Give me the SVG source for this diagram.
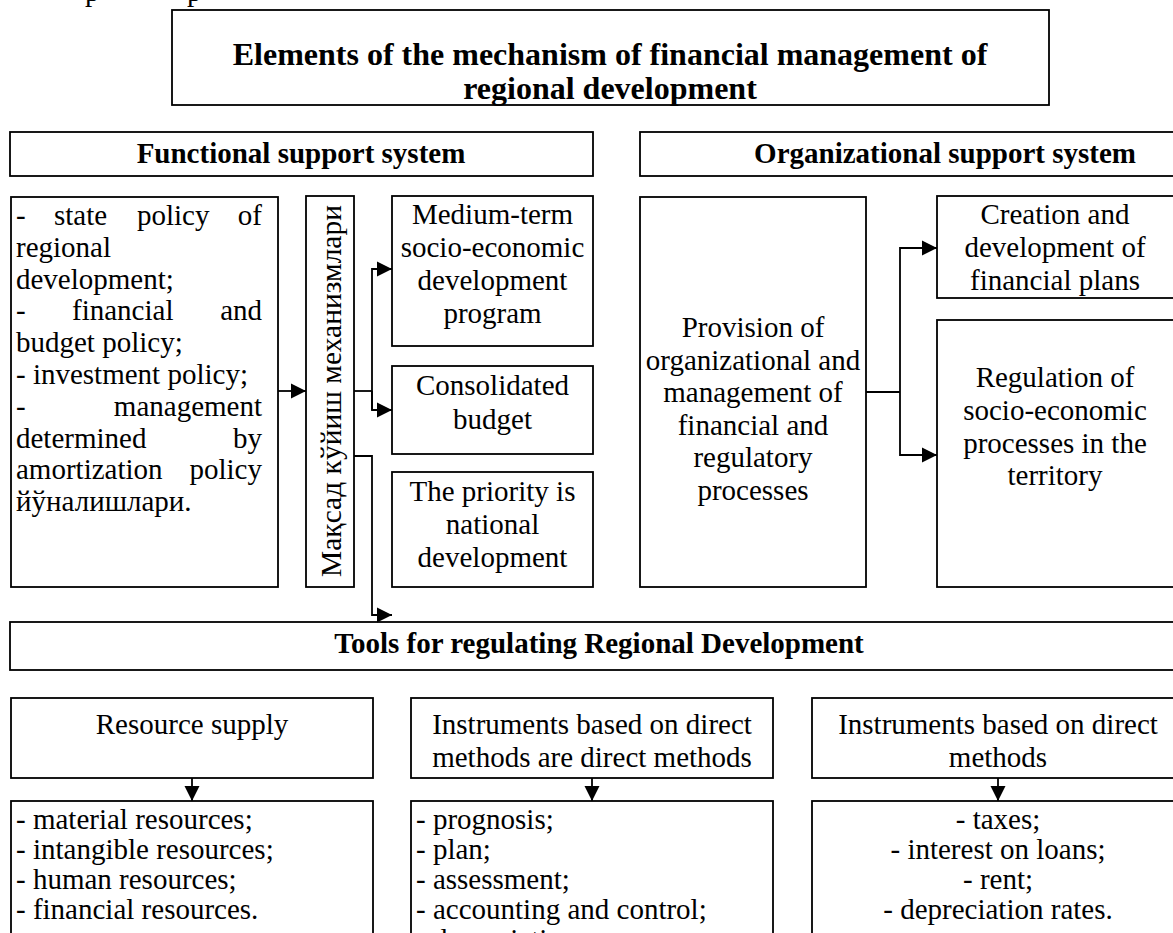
<svg xmlns="http://www.w3.org/2000/svg" width="1173" height="933" viewBox="0 0 1173 933">
  <style>
    .box { fill: #fff; stroke: #000; stroke-width: 1.8; }
    .t { font-family: "Liberation Serif", "Times New Roman", serif; font-size: 29px; fill: #000; }
    .b { font-weight: bold; }
    .c { text-anchor: middle; }
    .e { text-anchor: end; }
    .h1 { font-size: 32px; }
    .wire { fill: none; stroke: #000; stroke-width: 1.8; }
  </style>
  <defs>
    <marker id="arrow" markerUnits="userSpaceOnUse" markerWidth="16" markerHeight="16" viewBox="0 0 16 16" refX="15" refY="8" orient="auto">
      <path d="M0,0.5 L15,8 L0,15.5 z" fill="#000"/>
    </marker>
  </defs>

  <rect width="1173" height="933" fill="#fff"/>

  <!-- descenders of the preceding line of text -->
  <text class="t" x="85" y="1">p</text>
  <text class="t" x="187" y="1">p</text>

  <g id="title">
    <rect class="box" x="172" y="10" width="877" height="95"/>
    <text class="t b c h1" x="610" y="65">Elements of the mechanism of financial management of</text>
    <text class="t b c h1" x="610" y="99">regional development</text>
  </g>

  <g id="functional">
    <rect class="box" x="10" y="132" width="583" height="44"/>
    <text class="t b c" x="301" y="163">Functional support system</text>
  </g>

  <g id="organizational">
    <rect class="box" x="640" y="132" width="560" height="44"/>
    <text class="t b c" x="945" y="163">Organizational support system</text>
  </g>

  <g id="policies">
    <rect class="box" x="11" y="197" width="267" height="390"/>
    <text class="t" x="16" y="225">-</text>
    <text class="t" x="54" y="225">state</text>
    <text class="t" x="137" y="225">policy</text>
    <text class="t e" x="262" y="225">of</text>
    <text class="t" x="16" y="257">regional</text>
    <text class="t" x="16" y="289">development;</text>
    <text class="t" x="16" y="320">-</text>
    <text class="t" x="72" y="320">financial</text>
    <text class="t e" x="262" y="320">and</text>
    <text class="t" x="16" y="352">budget policy;</text>
    <text class="t" x="16" y="384">- investment policy;</text>
    <text class="t" x="16" y="416">-</text>
    <text class="t e" x="262" y="416">management</text>
    <text class="t" x="16" y="448">determined</text>
    <text class="t e" x="262" y="448">by</text>
    <text class="t" x="16" y="479">amortization</text>
    <text class="t e" x="262" y="479">policy</text>
    <text class="t" x="16" y="511">йўналишлари.</text>
  </g>

  <g id="goal-mechanisms">
    <rect class="box" x="306" y="196" width="48" height="391"/>
    <text class="t c" style="font-size:29.5px" transform="translate(341,391) rotate(-90)">Мақсад кўйиш механизмлари</text>
  </g>

  <g id="medium-term">
    <rect class="box" x="392" y="196" width="201" height="150"/>
    <text class="t c" x="492.5" y="224">Medium-term</text>
    <text class="t c" x="492.5" y="257">socio-economic</text>
    <text class="t c" x="492.5" y="290">development</text>
    <text class="t c" x="492.5" y="323">program</text>
  </g>

  <g id="consolidated">
    <rect class="box" x="392" y="366" width="201" height="88"/>
    <text class="t c" x="492.5" y="395">Consolidated</text>
    <text class="t c" x="492.5" y="429">budget</text>
  </g>

  <g id="priority">
    <rect class="box" x="392" y="472" width="201" height="115"/>
    <text class="t c" x="492.5" y="501">The priority is</text>
    <text class="t c" x="492.5" y="534">national</text>
    <text class="t c" x="492.5" y="567">development</text>
  </g>

  <g id="provision">
    <rect class="box" x="640" y="197" width="226" height="390"/>
    <text class="t c" x="753" y="337">Provision of</text>
    <text class="t c" x="753" y="370">organizational and</text>
    <text class="t c" x="753" y="402">management of</text>
    <text class="t c" x="753" y="435">financial and</text>
    <text class="t c" x="753" y="467">regulatory</text>
    <text class="t c" x="753" y="500">processes</text>
  </g>

  <g id="financial-plans">
    <rect class="box" x="937" y="196" width="250" height="102"/>
    <text class="t c" x="1055" y="224">Creation and</text>
    <text class="t c" x="1055" y="257">development of</text>
    <text class="t c" x="1055" y="290">financial plans</text>
  </g>

  <g id="regulation">
    <rect class="box" x="937" y="320" width="250" height="267"/>
    <text class="t c" x="1055" y="387">Regulation of</text>
    <text class="t c" x="1055" y="420">socio-economic</text>
    <text class="t c" x="1055" y="453">processes in the</text>
    <text class="t c" x="1055" y="485">territory</text>
  </g>

  <g id="tools">
    <rect class="box" x="10" y="622" width="1180" height="48"/>
    <text class="t b c" x="599" y="653">Tools for regulating Regional Development</text>
  </g>

  <g id="resource-supply">
    <rect class="box" x="11" y="698" width="362" height="80"/>
    <text class="t c" x="192" y="734">Resource supply</text>
  </g>

  <g id="direct-instruments">
    <rect class="box" x="411" y="698" width="362" height="80"/>
    <text class="t c" x="592" y="734">Instruments based on direct</text>
    <text class="t c" x="592" y="767">methods are direct methods</text>
  </g>

  <g id="economic-instruments">
    <rect class="box" x="812" y="698" width="380" height="80"/>
    <text class="t c" x="998" y="734">Instruments based on direct</text>
    <text class="t c" x="998" y="767">methods</text>
  </g>

  <g id="resources">
    <rect class="box" x="11" y="801" width="362" height="150"/>
    <text class="t" x="16" y="829">- material resources;</text>
    <text class="t" x="16" y="859">- intangible resources;</text>
    <text class="t" x="16" y="889">- human resources;</text>
    <text class="t" x="16" y="919">- financial resources.</text>
  </g>

  <g id="direct-methods">
    <rect class="box" x="411" y="801" width="362" height="150"/>
    <text class="t" x="416" y="829">- prognosis;</text>
    <text class="t" x="416" y="859">- plan;</text>
    <text class="t" x="416" y="889">- assessment;</text>
    <text class="t" x="416" y="919">- accounting and control;</text>
    <text class="t" x="416" y="949">- depreciation</text>
  </g>

  <g id="economic-methods">
    <rect class="box" x="812" y="801" width="380" height="150"/>
    <text class="t c" x="998" y="829">- taxes;</text>
    <text class="t c" x="998" y="859">- interest on loans;</text>
    <text class="t c" x="998" y="889">- rent;</text>
    <text class="t c" x="998" y="919">- depreciation rates.</text>
  </g>

  <g id="connectors">
    <path class="wire" d="M278,391 H306" marker-end="url(#arrow)"/>
    <path class="wire" d="M354,391 H372"/>
    <path class="wire" d="M372,410 V269 H392" marker-end="url(#arrow)"/>
    <path class="wire" d="M372,391 V410 H392" marker-end="url(#arrow)"/>
    <path class="wire" d="M354,456 H372 V615 H392" marker-end="url(#arrow)"/>
    <path class="wire" d="M866,392 H900"/>
    <path class="wire" d="M900,392 V248 H937" marker-end="url(#arrow)"/>
    <path class="wire" d="M900,392 V455 H937" marker-end="url(#arrow)"/>
    <path class="wire" d="M192,778 V801" marker-end="url(#arrow)"/>
    <path class="wire" d="M592,778 V801" marker-end="url(#arrow)"/>
    <path class="wire" d="M998,778 V801" marker-end="url(#arrow)"/>
  </g>
</svg>
